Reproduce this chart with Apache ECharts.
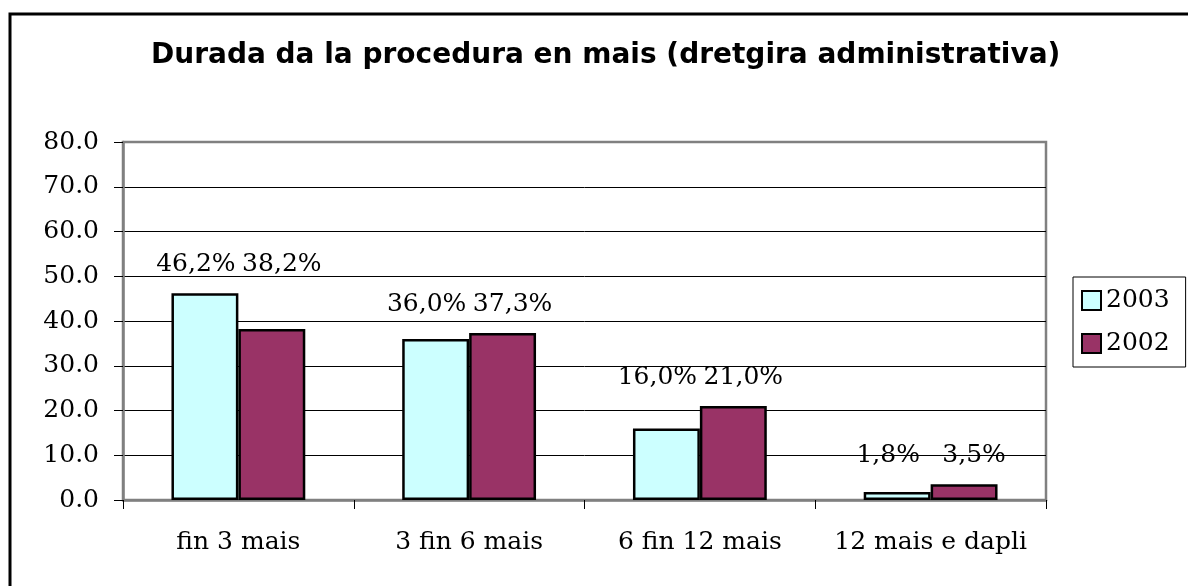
<!DOCTYPE html>
<html>
<head>
<meta charset="utf-8">
<script src="https://cdn.jsdelivr.net/npm/echarts@6/dist/echarts.min.js"></script>
<style>
    html, body { margin: 0; padding: 0; background: #fff; }
    #chart { width: 1188px; height: 586px; }
</style>
</head>
<body>
<div id="chart"></div>
<script>
const categories = ['fin 3 mais', '3 fin 6 mais', '6 fin 12 mais', '12 mais e dapli'];
const values2003 = [46.2, 36.0, 16.0, 1.8];
const values2002 = [38.2, 37.3, 21.0, 3.5];
const yTicks = { min: 0, max: 80, interval: 10 };

const gridTop = 142;
const gridHeight = 358;
const pxPerUnit = gridHeight / (yTicks.max - yTicks.min);

// Excel puts both labels of a group on one line, above the taller bar
const groupMax = categories.map((c, i) => Math.max(values2003[i], values2002[i]));

const serif = 'DejaVu Serif';

const makeSeries = (name, values, color, dx) => ({
    name: name,
    type: 'bar',
    barGap: '0%',
    barCategoryGap: '42%',
    data: values.map((v, i) => ({
        value: v,
        label: { offset: [dx, -(groupMax[i] - v) * pxPerUnit] }
    })),
    itemStyle: { color: color, borderColor: '#000', borderWidth: 2.5 },
    label: {
        show: true,
        position: 'top',
        distance: 16,
        fontFamily: serif,
        fontSize: 25,
        color: '#000',
        formatter: p => p.value.toFixed(1).replace('.', ',') + '%'
    }
});

const chart = echarts.init(document.getElementById('chart'));
chart.setOption({
    animation: false,
    backgroundColor: '#fff',
    title: {
        text: 'Durada da la procedura en mais (dretgira administrativa)',
        left: 146,
        top: 37,
        textStyle: { fontFamily: 'DejaVu Sans', fontWeight: 'bold', fontSize: 28, color: '#000' }
    },
    graphic: [{
        type: 'rect',
        shape: { x: 10, y: 14, width: 1300, height: 700 },
        style: { fill: 'none', stroke: '#000', lineWidth: 3 },
        silent: true
    }],
    legend: {
        orient: 'vertical',
        left: 1073,
        top: 277,
        padding: [11, 16, 11, 8],
        itemGap: 18,
        itemWidth: 19,
        itemHeight: 19,
        icon: 'rect',
        borderColor: '#000',
        borderWidth: 1,
        textStyle: { fontFamily: serif, fontSize: 25, color: '#000' },
        data: ['2003', '2002']
    },
    grid: {
        left: 123,
        top: gridTop,
        width: 923,
        height: gridHeight,
        show: true,
        borderColor: '#808080',
        borderWidth: 2.5,
        containLabel: false
    },
    xAxis: {
        type: 'category',
        data: categories,
        axisLine: { lineStyle: { color: '#808080', width: 2.5 } },
        axisTick: { show: true, length: 9, lineStyle: { color: '#000', width: 1 } },
        axisLabel: { interval: 0, fontFamily: serif, fontSize: 25, color: '#000', margin: 30 }
    },
    yAxis: {
        type: 'value',
        min: yTicks.min,
        max: yTicks.max,
        interval: yTicks.interval,
        axisLine: { show: true, lineStyle: { color: '#808080', width: 2.5 } },
        axisTick: { show: true, length: 9, lineStyle: { color: '#000', width: 1 } },
        axisLabel: { fontFamily: serif, fontSize: 25, color: '#000', margin: 24, formatter: v => v.toFixed(1) },
        splitLine: { show: true, showMinLine: false, showMaxLine: false, lineStyle: { color: '#000', width: 1 } }
    },
    series: [
        makeSeries('2003', values2003, '#CCFFFF', -9),
        makeSeries('2002', values2002, '#993366', 10)
    ]
});
</script>
</body>
</html>
